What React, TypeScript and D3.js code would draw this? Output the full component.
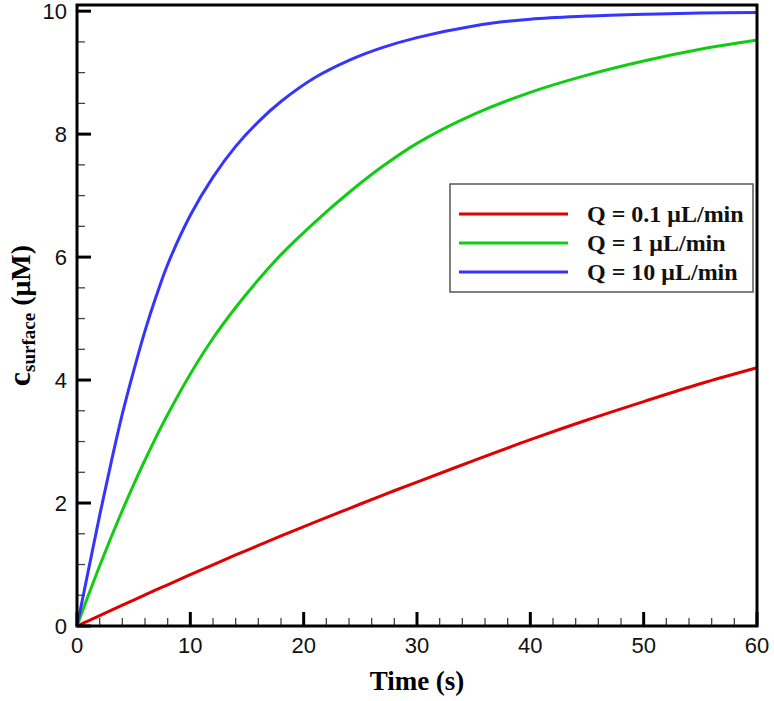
import React, { useEffect, useRef } from "react";
import * as d3 from "d3";

// sampled surface concentration (uM) vs time (s)
const timeS = [0, 1, 2, 3, 4, 5, 6, 7, 8, 10, 12, 14, 16, 18, 21, 24, 27, 30, 35, 40, 45, 50, 55, 60];
const cLow = [0, 0.085, 0.17, 0.255, 0.34, 0.42, 0.505, 0.59, 0.67, 0.835, 0.995, 1.155, 1.31, 1.465, 1.69, 1.91, 2.13, 2.34, 2.69, 3.03, 3.35, 3.65, 3.94, 4.2];
const cMid = [0, 0.5, 0.98, 1.44, 1.88, 2.3, 2.7, 3.08, 3.44, 4.1, 4.68, 5.18, 5.63, 6.04, 6.57, 7.05, 7.48, 7.85, 8.32, 8.68, 8.96, 9.19, 9.38, 9.53];
const cHigh = [0, 0.9, 1.8, 2.65, 3.45, 4.15, 4.8, 5.37, 5.88, 6.68, 7.3, 7.8, 8.2, 8.53, 8.92, 9.2, 9.41, 9.57, 9.76, 9.87, 9.92, 9.95, 9.97, 9.98];

const seriesLabels = ["Q = 0.1 \u03bcL/min", "Q = 1 \u03bcL/min", "Q = 10 \u03bcL/min"];
const seriesColors = ["#e00000", "#12cc12", "#3535ff"];
const seriesValues = [cLow, cMid, cHigh];

const xMajor = [0, 10, 20, 30, 40, 50, 60];
const yMajor = [0, 2, 4, 6, 8, 10];

const W = 774;
const H = 701;

const App: React.FC = () => {
  const svgRef = useRef<SVGSVGElement | null>(null);

  useEffect(() => {
    if (!svgRef.current) return;
    const svg = d3.select(svgRef.current);
    svg.selectAll("*").remove();

    const left = 77;
    const right = 757;
    const top = 5;
    const bottom = 626;

    const x = d3.scaleLinear().domain([0, 60]).range([left, right]);
    const y = d3.scaleLinear().domain([0, 10.1]).range([bottom, top]);

    svg.append("rect").attr("width", W).attr("height", H).attr("fill", "#fff");

    // curves
    const line = d3
      .line<number>()
      .x((_, i) => x(timeS[i]))
      .y((d) => y(d))
      .curve(d3.curveCatmullRom.alpha(0.5));

    seriesValues.forEach((vals, k) => {
      svg
        .append("path")
        .attr("d", line(vals) as string)
        .attr("fill", "none")
        .attr("stroke", seriesColors[k])
        .attr("stroke-width", 3);
    });

    // ticks (inward, left + bottom only)
    const g = svg.append("g");
    d3.range(0, 61, 2).forEach((t) => {
      const major = t % 10 === 0;
      g.append("line")
        .attr("x1", x(t))
        .attr("x2", x(t))
        .attr("y1", bottom)
        .attr("y2", bottom - (major ? 14 : 8))
        .attr("stroke", major ? "#000" : "#444")
        .attr("stroke-width", major ? 3 : 1.3);
    });
    d3.range(0, 10.01, 0.5).forEach((v) => {
      const major = Math.abs(v % 2) < 1e-6;
      g.append("line")
        .attr("x1", left)
        .attr("x2", left + (major ? 14 : 8))
        .attr("y1", y(v))
        .attr("y2", y(v))
        .attr("stroke", major ? "#000" : "#444")
        .attr("stroke-width", major ? 3 : 1.3);
    });

    // frame
    svg
      .append("rect")
      .attr("x", left)
      .attr("y", top)
      .attr("width", right - left)
      .attr("height", bottom - top)
      .attr("fill", "none")
      .attr("stroke", "#000")
      .attr("stroke-width", 3);

    // tick labels
    const tickFont = "Liberation Sans, Arial, sans-serif";
    xMajor.forEach((t) => {
      svg
        .append("text")
        .attr("x", x(t))
        .attr("y", 653)
        .attr("text-anchor", "middle")
        .attr("font-family", tickFont)
        .attr("font-size", 22)
        .attr("fill", "#111")
        .text(t);
    });
    yMajor.forEach((v) => {
      svg
        .append("text")
        .attr("x", 67)
        .attr("y", y(v))
        .attr("dy", "0.36em")
        .attr("text-anchor", "end")
        .attr("font-family", tickFont)
        .attr("font-size", 22)
        .attr("fill", "#111")
        .text(v);
    });

    const titleFont = "Liberation Serif, Times New Roman, serif";

    // x title
    svg
      .append("text")
      .attr("x", (left + right) / 2)
      .attr("y", 690)
      .attr("text-anchor", "middle")
      .attr("font-family", titleFont)
      .attr("font-weight", "bold")
      .attr("font-size", 27)
      .text("Time (s)");

    // y title with subscript
    const yt = svg
      .append("text")
      .attr("transform", `translate(30, ${(top + bottom) / 2}) rotate(-90)`)
      .attr("text-anchor", "middle")
      .attr("font-family", titleFont)
      .attr("font-weight", "bold")
      .attr("font-size", 28);
    yt.append("tspan").attr("font-size", 32).text("c");
    yt.append("tspan").attr("font-size", 19).attr("dy", 5).text("surface");
    yt.append("tspan").attr("dy", -5).text(" (\u03bcM)");

    // legend
    const lg = svg.append("g");
    lg.append("rect")
      .attr("x", 450)
      .attr("y", 184)
      .attr("width", 303)
      .attr("height", 108)
      .attr("fill", "#fff")
      .attr("stroke", "#555")
      .attr("stroke-width", 1.5);
    seriesLabels.forEach((lab, k) => {
      const ly = 214 + k * 29;
      lg.append("line")
        .attr("x1", 459)
        .attr("x2", 568)
        .attr("y1", ly)
        .attr("y2", ly)
        .attr("stroke", seriesColors[k])
        .attr("stroke-width", 3);
      lg.append("text")
        .attr("x", 587)
        .attr("y", ly)
        .attr("dy", "0.35em")
        .attr("font-family", titleFont)
        .attr("font-weight", "bold")
        .attr("font-size", 24)
        .attr("fill", "#111")
        .text(lab);
    });
  }, []);

  return (
    <div style={{ position: "absolute", left: 0, top: 0 }}>
      <svg ref={svgRef} width={W} height={H} />
    </div>
  );
};

export default App;
